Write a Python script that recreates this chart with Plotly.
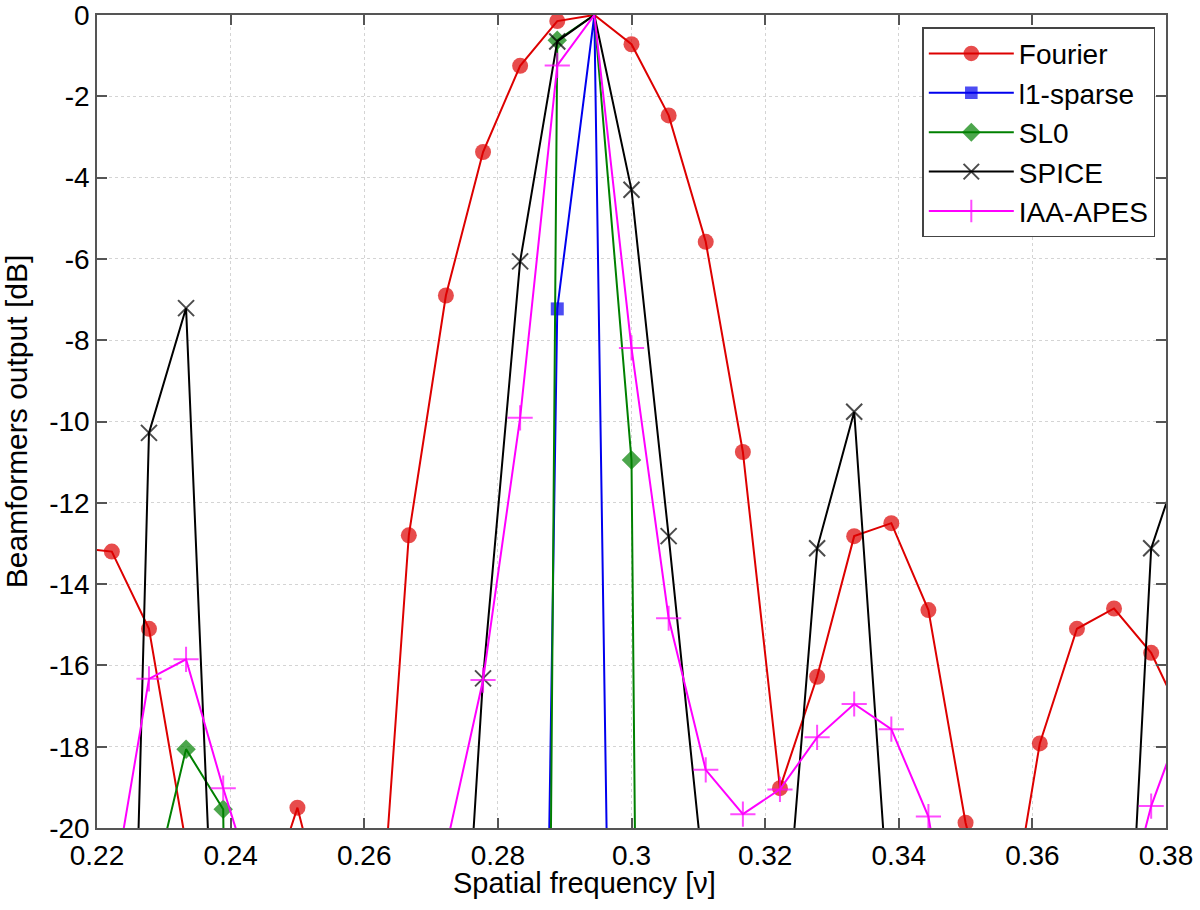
import plotly.graph_objects as go

# spatial frequency grid (k/180)
nu = [0.21667, 0.22222, 0.22778, 0.23333, 0.23889, 0.24444, 0.25, 0.25556,
      0.26111, 0.26667, 0.27222, 0.27778, 0.28333, 0.28889, 0.29444, 0.3,
      0.30556, 0.31111, 0.31667, 0.32222, 0.32778, 0.33333, 0.33889, 0.34444,
      0.35, 0.35556, 0.36111, 0.36667, 0.37222, 0.37778, 0.38333]

# beamformer outputs in dB
fourier = [-13.1, -13.2, -15.1, -20.4, -30.0, -22.3, -19.5, -23.1,
           -25.7, -12.8, -6.9, -3.37, -1.25, -0.15, 0.0, -0.72,
           -2.47, -5.58, -10.75, -19.02, -16.28, -12.82, -12.5, -14.64,
           -19.87, -23.4, -17.92, -15.1, -14.6, -15.69, -17.6]
l1_sparse = [-85.0, -82.0, -88.0, -79.0, -90.0, -84.0, -87.0, -81.0,
             -89.0, -83.0, -86.0, -80.0, -66.6, -7.23, 0.0, -60.8,
             -82.0, -88.0, -85.0, -79.0, -87.0, -83.0, -90.0, -81.0,
             -86.0, -84.0, -88.0, -82.0, -85.0, -80.0, -87.0]
sl0 = [-45.0, -40.0, -21.9, -18.06, -19.54, -100.0, -95.0, -98.0,
       -102.0, -97.0, -104.0, -99.0, -115.0, -0.62, 0.0, -10.95,
       -109.7, -101.0, -96.0, -103.0, -98.0, -100.0, -97.0, -105.0,
       -99.0, -102.0, -96.0, -101.0, -98.0, -103.0, -100.0]
spice = [-40.0, -45.0, -10.28, -7.21, -29.0, -42.0, -38.0, -44.0,
         -40.0, -43.0, -30.9, -16.32, -6.06, -0.65, 0.0, -4.3,
         -12.82, -21.7, -35.0, -24.4, -13.12, -9.76, -22.9, -36.0,
         -40.0, -38.0, -41.0, -37.0, -30.5, -13.12, -10.4]
iaa_apes = [-30.0, -21.75, -16.33, -15.85, -19.02, -21.95, -30.0, -32.0,
            -29.0, -31.0, -20.5, -16.36, -9.91, -1.24, 0.0, -8.19,
            -14.84, -18.57, -19.66, -19.05, -17.77, -16.95, -17.57, -19.72,
            -25.0, -30.0, -32.0, -29.0, -23.0, -19.46, -16.98]

x_ticks = [0.22, 0.24, 0.26, 0.28, 0.30, 0.32, 0.34, 0.36, 0.38]
x_ticktext = ["0.22", "0.24", "0.26", "0.28", "0.3", "0.32", "0.34", "0.36", "0.38"]
y_ticks = [0, -2, -4, -6, -8, -10, -12, -14, -16, -18, -20]
y_ticktext = ["0", "-2", "-4", "-6", "-8", "-10", "-12", "-14", "-16", "-18", "-20"]

FONT = "Liberation Sans, Arial, sans-serif"

series = [
    ("Fourier", fourier, "#dd0000", "circle", 16, 0),
    ("l1-sparse", l1_sparse, "#0000ee", "square", 13, 0),
    ("SL0", sl0, "#008000", "diamond", 15, 0),
    ("SPICE", spice, "#000000", "x-thin", 16, 2),
    ("IAA-APES", iaa_apes, "#ff00ff", "cross-thin", 18, 2),
]

fig = go.Figure()
for name, vals, color, symbol, size, mlw in series:
    # markers at the very top edge are not drawn in the original
    sizes = [0 if v >= 0 else size for v in vals]
    fig.add_trace(go.Scatter(
        x=nu, y=vals, name=name, mode="lines+markers",
        line=dict(color=color, width=2),
        marker=dict(symbol=symbol, size=sizes, color=color,
                    line=dict(color=color, width=mlw)),
    ))

axis_common = dict(
    showline=True, linecolor="#555555", linewidth=1.5, mirror="ticks",
    ticks="inside", ticklen=10, tickwidth=1.5, tickcolor="#555555",
    showgrid=True, gridcolor="#d4d4d4", griddash="dot", gridwidth=1,
    zeroline=False, automargin=False, ticklabeloverflow="allow",
    tickfont=dict(family=FONT, size=28, color="black"),
)

fig.update_layout(
    width=1200, height=910,
    paper_bgcolor="white", plot_bgcolor="white",
    margin=dict(l=97, r=34, t=15, b=82),
    font=dict(family=FONT, color="black"),
    xaxis=dict(range=[0.22, 0.38], tickvals=x_ticks, ticktext=x_ticktext,
               ticklabelstandoff=2, **axis_common),
    yaxis=dict(range=[-20, 0], tickvals=y_ticks, ticktext=y_ticktext,
               ticklabelstandoff=0,
               title=dict(text="Beamformers output [dB]", font=dict(family=FONT, size=30), standoff=14),
               **axis_common),
    legend=dict(x=0.99, y=0.985, xanchor="right", yanchor="top",
                bgcolor="white", bordercolor="#444444", borderwidth=1.5,
                font=dict(family=FONT, size=28, color="black"),
                itemwidth=85, tracegroupgap=0),
    showlegend=True,
    annotations=[dict(text="Spatial frequency [ν]", xref="paper", yref="paper",
                      x=0.456, y=-0.068, xanchor="center", yanchor="middle",
                      showarrow=False, font=dict(family=FONT, size=29, color="black"))],
)

# drop the default page margin so the figure sits at the window origin
fig.write_html("out.html", config={"displayModeBar": False},
               post_script="document.body.style.margin='0';")
